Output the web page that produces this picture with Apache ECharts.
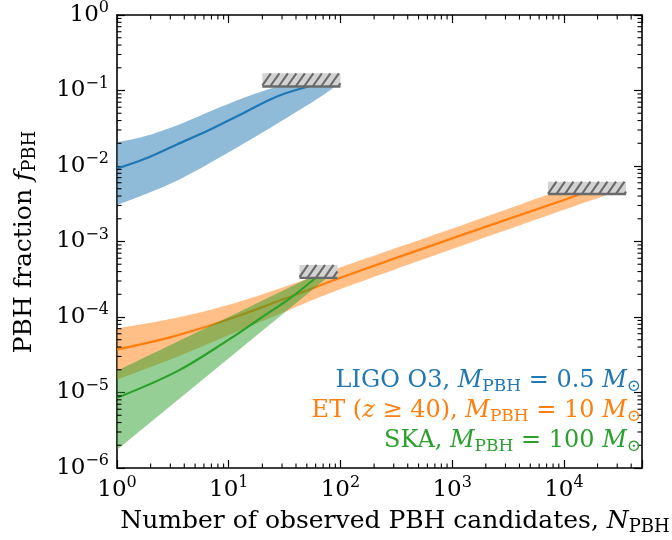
<!DOCTYPE html>
<html><head><meta charset="utf-8">
<script src="https://cdn.jsdelivr.net/npm/echarts@6/dist/echarts.min.js"></script>
<style>html,body{margin:0;padding:0;background:#fff}#c{width:672px;height:540px}</style>
</head><body><div id="c"></div>
<script>
// ---- data ----
const ligoMedian = [[1,0.00925],[1.73,0.01225],[3.44,0.0193],[6.84,0.0304],[13.6,0.0505],[27,0.0834],[51.6,0.113]];
const ligoUpper  = [[1,0.0207],[1.73,0.0245],[3.44,0.0345],[6.84,0.053],[13.6,0.08],[27,0.113]];
const ligoLower  = [[1,0.00304],[3.44,0.0064],[13.6,0.0198],[54,0.068],[90,0.113]];

const etMedian = [[1,3.72e-5],[3.16,5.5e-5],[10,9.33e-5],[31.6,1.74e-4],[100,3.31e-4],[1000,1.10e-3],[1e4,3.55e-3],[1.41e4,4.25e-3]];
const etUpper  = [[1,7.08e-5],[3.16,9.55e-5],[10,1.45e-4],[31.6,2.51e-4],[100,4.57e-4],[1000,1.48e-3],[7400,4.25e-3]];
const etLower  = [[1,1.48e-5],[3.16,2.82e-5],[10,5.75e-5],[31.6,1.17e-4],[100,2.34e-4],[1000,7.94e-4],[1e4,2.63e-3],[2.57e4,4.25e-3]];

const skaMedian = [[1,8.51e-6],[3.44,1.905e-5],[10,5.01e-5],[19.1,9.55e-5],[35.5,1.78e-4],[60.3,3.31e-4]];
const skaUpper  = [[1,1.95e-5],[10,1.0e-4],[52.5,3.31e-4]];
const skaLower  = [[1,1.74e-6],[75.9,3.31e-4]];

// excluded regions (hatched): [xFrom, xTo, fBottom, fTop]
const hatchBoxes = [[20,100,0.113,0.169],[7200,36000,4.25e-3,6.2e-3],[43,94,3.3e-4,4.9e-4]];

const xTickExponents = [0,1,2,3,4];
const yTickExponents = [-6,-5,-4,-3,-2,-1,0];
const xRange = [1, 5e4];
const yRange = [1e-6, 1];

const C_BLUE = '#1f77b4', C_ORANGE = '#ff7f0e', C_GREEN = '#2ca02c';
const SERIF = '"DejaVu Serif", "Liberation Serif", serif';

function expLabel(v, list) {
  const l = Math.log10(v), e = Math.round(l);
  if (Math.abs(l - e) > 1e-6 || list.indexOf(e) < 0) return '';
  return '{b|10}{s|' + (e < 0 ? '\u2212' + (-e) : e) + '}';
}
const tickRich = {
  b: {fontFamily: SERIF, fontSize: 23, color: '#000'},
  s: {fontFamily: SERIF, fontSize: 16, color: '#000', padding: [0, 0, 14, 0]}
};

// smooth an edge (in pixel space) with a Catmull-Rom spline for drawing
function smoothPx(pts) {
  if (pts.length < 3) return pts.slice();
  const out = [], n = pts.length, steps = 14;
  for (let i = 0; i < n - 1; i++) {
    const p0 = pts[Math.max(i - 1, 0)], p1 = pts[i], p2 = pts[i + 1], p3 = pts[Math.min(i + 2, n - 1)];
    for (let s = 0; s < steps; s++) {
      const t = s / steps, t2 = t * t, t3 = t2 * t;
      out.push([0, 1].map(k => 0.5 * ((2 * p1[k]) + (-p0[k] + p2[k]) * t +
        (2 * p0[k] - 5 * p1[k] + 4 * p2[k] - p3[k]) * t2 + (-p0[k] + 3 * p1[k] - 3 * p2[k] + p3[k]) * t3)));
    }
  }
  out.push(pts[n - 1]);
  return out;
}

function bandSeries(upper, lower, fill, z) {
  const poly = upper.concat(lower.slice().reverse());
  return {
    type: 'custom', data: poly, encode: {x: 0, y: 1}, z: z, silent: true,
    renderItem: function (params, api) {
      if (params.dataIndex !== 0) return;
      const up = smoothPx(upper.map(p => api.coord(p)));
      const lo = smoothPx(lower.map(p => api.coord(p)));
      return {type: 'polygon', shape: {points: up.concat(lo.reverse())}, style: {fill: fill}};
    }
  };
}
function lineSeries(data, color, z) {
  return {type: 'line', data: data, symbol: 'none', smooth: 0.35, z: z, silent: true,
    lineStyle: {color: color, width: 2.2}};
}

const hatchSeries = {
  type: 'custom', data: hatchBoxes, encode: {x: [0, 1], y: [2, 3]}, z: 20, silent: true,
  renderItem: function (params, api) {
    const a = api.coord([api.value(0), api.value(2)]);
    const b = api.coord([api.value(1), api.value(3)]);
    const L = a[0], R = b[0], B = a[1], T = b[1], h = B - T;
    const ch = [{type: 'rect', shape: {x: L, y: T, width: R - L, height: h}, style: {fill: '#d3d3d3'}}];
    const dx = h * 0.7, step = 8.5;
    for (let xs = L - dx; xs < R; xs += step) {
      let x1 = xs, y1 = B, x2 = xs + dx, y2 = T;
      if (x1 < L) { y1 = B - (L - xs) / dx * h; x1 = L; }
      if (x2 > R) { y2 = B - (R - xs) / dx * h; x2 = R; }
      if (x2 <= x1) continue;
      ch.push({type: 'line', shape: {x1: x1, y1: y1, x2: x2, y2: y2}, style: {stroke: '#6a6a6a', lineWidth: 2.1}});
    }
    ch.push({type: 'line', shape: {x1: L, y1: B, x2: R, y2: B}, style: {stroke: '#6a6a6a', lineWidth: 2.4}});
    return {type: 'group', children: ch};
  }
};

const minorTickSeries = {
  type: 'custom', data: [[xRange[0], yRange[0]]], encode: {x: 0, y: 1}, z: 30, silent: true,
  renderItem: function (params, api) {
    const bl = api.coord([xRange[0], yRange[0]]), tr = api.coord([xRange[1], yRange[1]]);
    const ch = [], len = 4.5, st = {stroke: '#000', lineWidth: 1.1};
    for (let k = xTickExponents[0]; k <= xTickExponents[xTickExponents.length - 1]; k++) {
      for (let m = 2; m <= 9; m++) {
        const v = m * Math.pow(10, k);
        if (v >= xRange[1]) continue;
        const x = api.coord([v, yRange[0]])[0];
        ch.push({type: 'line', shape: {x1: x, y1: bl[1], x2: x, y2: bl[1] - len}, style: st});
        ch.push({type: 'line', shape: {x1: x, y1: tr[1], x2: x, y2: tr[1] + len}, style: st});
      }
    }
    for (let k = yTickExponents[0]; k < yTickExponents[yTickExponents.length - 1]; k++) {
      for (let m = 2; m <= 9; m++) {
        const v = m * Math.pow(10, k);
        const y = api.coord([xRange[0], v])[1];
        ch.push({type: 'line', shape: {x1: bl[0], y1: y, x2: bl[0] + len, y2: y}, style: st});
        ch.push({type: 'line', shape: {x1: tr[0], y1: y, x2: tr[0] - len, y2: y}, style: st});
      }
    }
    return {type: 'group', children: ch};
  }
};

const axisLine = {show: true, onZero: false, lineStyle: {color: '#000', width: 1.6}};
const axisTick = {show: true, inside: true, length: 8, lineStyle: {color: '#000', width: 1.2}};
function xAx(pos, showLabel) {
  return {type: 'log', logBase: 10, min: xRange[0], max: xRange[1], interval: 1, position: pos,
    axisLine: axisLine, axisTick: axisTick, splitLine: {show: false}, minorTick: {show: false},
    axisLabel: {show: showLabel, margin: 7, formatter: v => expLabel(v, xTickExponents), rich: tickRich}};
}
function yAx(pos, showLabel) {
  return {type: 'log', logBase: 10, min: yRange[0], max: yRange[1], interval: 1, position: pos,
    axisLine: axisLine, axisTick: axisTick, splitLine: {show: false}, minorTick: {show: false},
    axisLabel: {show: showLabel, margin: 8, formatter: v => expLabel(v, yTickExponents), rich: tickRich}};
}

function richFor(color, fs, fss) {
  return {
    t: {fontFamily: SERIF, fontSize: fs, fill: color, color: color},
    i: {fontFamily: SERIF, fontSize: fs, fontStyle: 'italic', fill: color, color: color},
    s: {fontFamily: SERIF, fontSize: fss, fill: color, color: color, padding: [12, 0, 0, 0]}
  };
}
function txt(x, y, text, color, align, fs, fss, rot) {
  return {type: 'text', x: x, y: y, rotation: rot || 0, silent: true, z: 50,
    style: {text: text, rich: richFor(color, fs, fss), fontFamily: SERIF, fontSize: fs, fill: color,
      align: align, textAlign: align, verticalAlign: 'middle', textVerticalAlign: 'middle'}};
}

const chart = echarts.init(document.getElementById('c'), null, {renderer: 'canvas', width: 672, height: 540});
chart.setOption({
  backgroundColor: '#fff',
  animation: false,
  grid: {left: 117, right: 30, top: 15, bottom: 72, containLabel: false},
  xAxis: [xAx('bottom', true), xAx('top', false)],
  yAxis: [yAx('left', true), yAx('right', false)],
  series: [
    bandSeries(ligoUpper, ligoLower, 'rgba(31,119,180,0.5)', 2),
    lineSeries(ligoMedian, C_BLUE, 3),
    bandSeries(etUpper, etLower, 'rgba(255,127,14,0.5)', 4),
    lineSeries(etMedian, C_ORANGE, 5),
    bandSeries(skaUpper, skaLower, 'rgba(44,160,44,0.5)', 6),
    lineSeries(skaMedian, C_GREEN, 7),
    hatchSeries,
    minorTickSeries
  ],
  graphic: [
    txt(641, 381, '{t|LIGO O3, }{i|M}{s|PBH}{t| = 0.5 }{i|M}{s|\u2299}', C_BLUE, 'right', 24, 17),
    txt(641, 411, '{t|ET (}{i|z}{t| \u2265 40), }{i|M}{s|PBH}{t| = 10 }{i|M}{s|\u2299}', C_ORANGE, 'right', 24, 17),
    txt(641, 441, '{t|SKA, }{i|M}{s|PBH}{t| = 100 }{i|M}{s|\u2299}', C_GREEN, 'right', 24, 17),
    txt(395, 521, '{t|Number of observed PBH candidates, }{i|N}{s|PBH}', '#000', 'center', 25, 18),
    txt(24, 242, '{t|PBH fraction }{i|f}{s|PBH}', '#000', 'center', 25, 18, Math.PI / 2)
  ]
});
</script>
</body></html>
